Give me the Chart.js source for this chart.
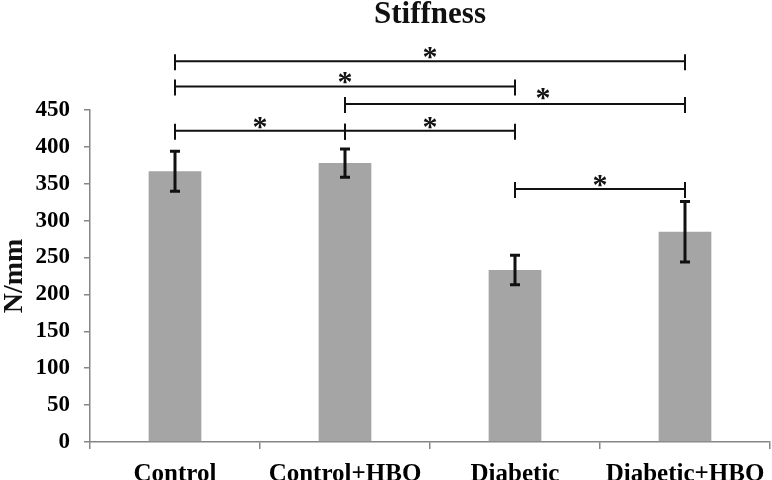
<!DOCTYPE html>
<html>
<head>
<meta charset="utf-8">
<script src="https://cdn.jsdelivr.net/npm/chart.js@4.4.1/dist/chart.umd.min.js"></script>
<style>
  html, body { margin: 0; padding: 0; background: #fff; }
  #wrap { width: 772px; height: 480px; }
</style>
</head>
<body>
<div id="wrap"><canvas id="stiffnessChart" width="772" height="480"></canvas></div>
<script>
// Chart data
const categories = ['Control', 'Control+HBO', 'Diabetic', 'Diabetic+HBO'];
const means = [367, 378, 233, 285];
const errors = [27, 19, 20, 41];
const yTicks = [0, 50, 100, 150, 200, 250, 300, 350, 400, 450];

// Significance brackets (category index from/to, height in N/mm)
const bracketFrom = [0, 0, 1, 0, 1, 2];
const bracketTo = [3, 2, 3, 1, 2, 3];
const bracketLevel = [516, 482, 458, 422, 422, 343];
const bracketLabel = ['*', '*', '*', '*', '*', '*'];

const serif = "'Liberation Serif', 'Times New Roman', serif";
const axisColor = '#868686';

// Draws error bars, brackets and titles
const overlayPlugin = {
  id: 'overlay',
  afterDatasetsDraw(chart) {
    const ctx = chart.ctx;
    const meta = chart.getDatasetMeta(0);
    const y = chart.scales.y;
    const x = chart.scales.x;

    ctx.save();
    // error bars
    ctx.strokeStyle = '#111';
    ctx.lineWidth = 3;
    meta.data.forEach((bar, i) => {
      const top = y.getPixelForValue(means[i] + errors[i]);
      const bottom = y.getPixelForValue(means[i] - errors[i]);
      ctx.beginPath();
      ctx.moveTo(bar.x, top);
      ctx.lineTo(bar.x, bottom);
      ctx.moveTo(bar.x - 5, top);
      ctx.lineTo(bar.x + 5, top);
      ctx.moveTo(bar.x - 5, bottom);
      ctx.lineTo(bar.x + 5, bottom);
      ctx.stroke();
    });

    // brackets
    ctx.lineWidth = 2;
    ctx.fillStyle = '#111';
    ctx.font = 'bold 30px ' + serif;
    ctx.textAlign = 'center';
    ctx.textBaseline = 'alphabetic';
    bracketFrom.forEach((from, i) => {
      const x1 = x.getPixelForValue(from);
      const x2 = x.getPixelForValue(bracketTo[i]);
      const ly = y.getPixelForValue(bracketLevel[i]);
      ctx.beginPath();
      ctx.moveTo(x1, ly);
      ctx.lineTo(x2, ly);
      ctx.moveTo(x1, ly - 7);
      ctx.lineTo(x1, ly + 9);
      ctx.moveTo(x2, ly - 7);
      ctx.lineTo(x2, ly + 9);
      ctx.stroke();
      // the Control+HBO vs Diabetic+HBO star sits right of centre
      const shift = (i === 2) ? 28 : 0;
      ctx.fillText(bracketLabel[i], (x1 + x2) / 2 + shift, ly + 5 - (i === 2 ? 2 : 0));
    });

    // title
    ctx.font = 'bold 31px ' + serif;
    ctx.textBaseline = 'alphabetic';
    ctx.fillText('Stiffness', (chart.chartArea.left + chart.chartArea.right) / 2, 23);

    // y axis title
    ctx.translate(15, (chart.chartArea.top + chart.chartArea.bottom) / 2);
    ctx.rotate(-Math.PI / 2);
    ctx.font = 'bold 28px ' + serif;
    ctx.textBaseline = 'middle';
    ctx.fillText('N/mm', 0, 0);
    ctx.restore();
  }
};

const ctx = document.getElementById('stiffnessChart').getContext('2d');
new Chart(ctx, {
  type: 'bar',
  data: {
    labels: categories,
    datasets: [{
      data: means,
      backgroundColor: '#a5a5a5',
      borderWidth: 0,
      categoryPercentage: 1,
      barPercentage: 0.31
    }]
  },
  options: {
    responsive: false,
    animation: false,
    layout: { padding: { top: 110, right: 2, left: 0, bottom: 0 } },
    plugins: {
      legend: { display: false },
      tooltip: { enabled: false }
    },
    scales: {
      x: {
        grid: {
          offset: true,
          drawOnChartArea: false,
          drawTicks: true,
          tickLength: 7,
          color: axisColor,
          lineWidth: 1.5
        },
        border: { color: axisColor, width: 1.5 },
        ticks: {
          color: '#000',
          padding: 11,
          maxRotation: 0,
          autoSkip: false,
          font: { family: serif, size: 25, weight: 'bold' }
        },
        afterFit(scale) {
          scale.height = 38;
          scale.paddingLeft = 0;
          scale.paddingRight = 0;
        }
      },
      y: {
        min: 0,
        max: 450,
        afterBuildTicks(scale) {
          scale.ticks = yTicks.map(v => ({ value: v }));
        },
        grid: {
          drawOnChartArea: false,
          drawTicks: true,
          tickLength: 6,
          color: axisColor,
          lineWidth: 1.5
        },
        border: { color: axisColor, width: 1.5 },
        ticks: {
          color: '#000',
          padding: 14,
          font: { family: serif, size: 23, weight: 'bold' }
        },
        afterFit(scale) { scale.width = 90; }
      }
    }
  },
  plugins: [overlayPlugin]
});
</script>
</body>
</html>
